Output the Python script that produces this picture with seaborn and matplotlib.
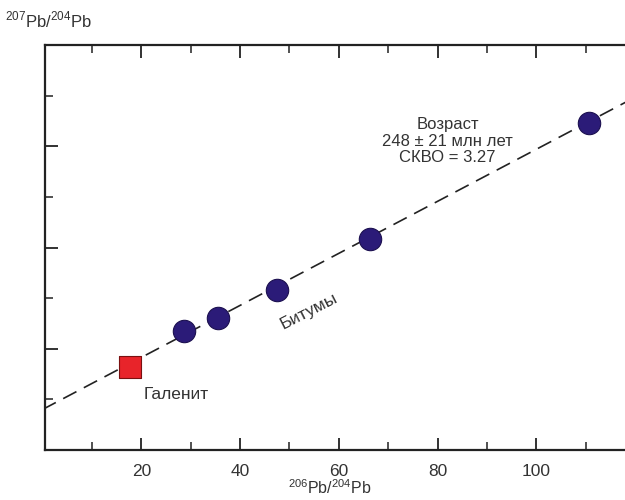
import matplotlib
matplotlib.use("Agg")
import matplotlib.pyplot as plt
import seaborn as sns
import pandas as pd
from matplotlib.ticker import MultipleLocator, FixedLocator

# ─── Data ─────────────────────────────────────────────────────────────────────
bitumen_x = [28.7, 35.6, 47.4, 66.4, 110.6]
bitumen_y = [16.18, 16.30, 16.58, 17.08, 18.23]
galena_x = [17.8]
galena_y = [15.82]
isochron_x = [0.0, 121.0]
isochron_y = [15.40, 18.51]
x_ticklabels = [20, 40, 60, 80, 100]

sns.set_theme(style="ticks")
plt.rcParams["font.family"] = ["Liberation Sans", "DejaVu Sans"]
plt.rcParams["mathtext.fontset"] = "custom"
plt.rcParams["mathtext.rm"] = "Liberation Sans"

fig = plt.figure(figsize=(6.25, 5), dpi=100)
ax = fig.add_axes([45 / 625, 50 / 500, 600 / 625, 405 / 500])

bit = pd.DataFrame({"x": bitumen_x, "y": bitumen_y})
gal = pd.DataFrame({"x": galena_x, "y": galena_y})
iso = pd.DataFrame({"x": isochron_x, "y": isochron_y})

sns.lineplot(data=iso, x="x", y="y", ax=ax, color="#222222", lw=1.2,
             dashes=False, zorder=1)
ax.lines[-1].set_dashes([9, 5])
sns.scatterplot(data=bit, x="x", y="y", ax=ax, s=260, color="#2b1b78",
                edgecolor="#1c1050", linewidth=0.8, zorder=3)
sns.scatterplot(data=gal, x="x", y="y", ax=ax, marker="s", s=230,
                color="#e8242a", edgecolor="#7a1010", linewidth=0.8, zorder=3)

ax.set_xlim(0.5, 122)
ax.set_ylim(15.0, 19.0)

ax.xaxis.set_major_locator(FixedLocator(x_ticklabels))
ax.xaxis.set_minor_locator(MultipleLocator(10))
ax.yaxis.set_major_locator(MultipleLocator(1))
ax.yaxis.set_minor_locator(MultipleLocator(0.5))
ax.set_yticklabels([])
ax.tick_params(axis="both", which="both", direction="in", top=True,
               right=False, color="#222222")
ax.tick_params(axis="both", which="major", length=9, width=1.3)
ax.tick_params(axis="both", which="minor", length=6, width=1.1)
ax.tick_params(axis="x", labelsize=12.5, labelcolor="#333333", pad=10)
ax.tick_params(axis="x", which="both", labeltop=False)

for side in ["left", "bottom", "top"]:
    ax.spines[side].set_linewidth(1.6)
    ax.spines[side].set_color("#222222")
ax.spines["right"].set_visible(False)

ax.set_xlabel("")
ax.set_ylabel("")
fig.text(330 / 625, 1 - 488 / 500, r"$^{206}$Pb/$^{204}$Pb", ha="center",
         va="center", fontsize=11.5, color="#333333")
fig.text(5 / 625, 1 - 20 / 500, r"$^{207}$Pb/$^{204}$Pb", ha="left",
         va="center", fontsize=12, color="#333333")

ax.text(82, 18.05, "Возраст\n248 ± 21 млн лет\nСКВО = 3.27", ha="center",
        va="center", fontsize=12, color="#333333", linespacing=1.15)
ax.text(54, 16.37, "Битумы", ha="center", va="center", fontsize=12.5,
        color="#333333", rotation=27)
ax.text(27, 15.55, "Галенит", ha="center", va="center", fontsize=12.5,
        color="#333333")

fig.savefig("out.png", dpi=100)
